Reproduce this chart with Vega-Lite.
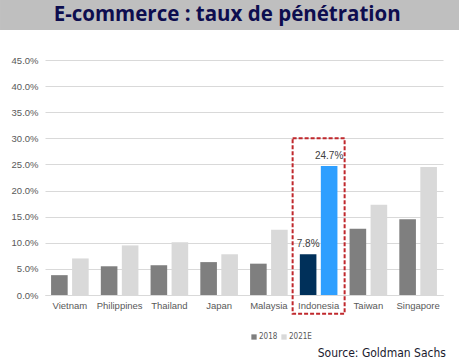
{
  "$schema": "https://vega.github.io/schema/vega-lite/v6.json",
  "padding": 0,
  "spacing": 25,
  "align": "none",
  "background": "white",
  "config": {"view": {"stroke": null}, "font": "Liberation Sans"},
  "vconcat": [
    {
      "width": 414,
      "height": 30,
      "data": {"values": [{"t": "E-commerce : taux de pénétration"}]},
      "encoding": {},
      "layer": [
        {
          "mark": {"type": "rect", "color": "#bfbfbf"},
          "encoding": {
            "x": {"datum": 0, "type": "quantitative", "scale": {"domain": [0.098, 1], "zero": false, "nice": false}, "axis": null},
            "x2": {"datum": 1}
          }
        },
        {
          "mark": {"type": "text", "font": "Open Sans", "fontWeight": "bold", "fontSize": 20.5, "color": "#0d0d4f", "baseline": "middle", "align": "center"},
          "encoding": {
            "x": {"datum": 0.495, "type": "quantitative"},
            "text": {"field": "t"}
          }
        }
      ]
    },
    {
      "width": 398,
      "height": 235,
      "data": {"values": [
        {"country": "Vietnam", "year": "2018", "value": 0.038},
        {"country": "Vietnam", "year": "2021E", "value": 0.070},
        {"country": "Philippines", "year": "2018", "value": 0.055},
        {"country": "Philippines", "year": "2021E", "value": 0.095},
        {"country": "Thailand", "year": "2018", "value": 0.057},
        {"country": "Thailand", "year": "2021E", "value": 0.101},
        {"country": "Japan", "year": "2018", "value": 0.063},
        {"country": "Japan", "year": "2021E", "value": 0.078},
        {"country": "Malaysia", "year": "2018", "value": 0.060},
        {"country": "Malaysia", "year": "2021E", "value": 0.125},
        {"country": "Indonesia", "year": "2018", "value": 0.078},
        {"country": "Indonesia", "year": "2021E", "value": 0.247},
        {"country": "Taiwan", "year": "2018", "value": 0.127},
        {"country": "Taiwan", "year": "2021E", "value": 0.173},
        {"country": "Singapore", "year": "2018", "value": 0.145},
        {"country": "Singapore", "year": "2021E", "value": 0.245}
      ]},
      "title": {"text": "Source: Goldman Sachs", "orient": "bottom", "anchor": "end", "font": "DejaVu Sans Condensed", "fontSize": 12, "fontWeight": "normal", "color": "#1a1a2e", "offset": 33, "dx": 3},
      "encoding": {
        "x": {"field": "country", "type": "nominal", "sort": null,
          "scale": {"paddingInner": 0.244, "paddingOuter": 0.122},
          "axis": {"title": null, "labelAngle": 0, "labelFontSize": 9.5, "labelColor": "#595959", "ticks": false, "domainColor": "#d9d9d9", "labelPadding": 5}},
        "y": {"field": "value", "type": "quantitative",
          "scale": {"domain": [0, 0.45]},
          "axis": {"title": null, "format": ".1%", "values": [0, 0.05, 0.1, 0.15, 0.2, 0.25, 0.3, 0.35, 0.4, 0.45], "labelFontSize": 9.5, "labelColor": "#595959", "domain": false, "ticks": false, "gridColor": "#d9d9d9", "labelPadding": 7, "minExtent": 45}}
      },
      "layer": [
        {
          "mark": {"type": "bar"},
          "encoding": {
            "xOffset": {"field": "year", "scale": {"paddingInner": 0.21}},
            "color": {
              "field": "year", "type": "nominal",
              "scale": {"domain": ["2018", "2021E"], "range": ["#7f7f7f", "#d9d9d9"]},
              "legend": {"title": null, "orient": "none", "direction": "horizontal", "legendX": 205, "legendY": 333, "symbolType": "square", "symbolSize": 28, "labelFont": "DejaVu Sans Condensed", "labelFontSize": 8, "labelColor": "#595959", "columnPadding": 2, "labelOffset": 1, "symbolStrokeWidth": 0},
              "condition": [
                {"test": "datum.country === 'Indonesia' && datum.year === '2018'", "value": "#00305a"},
                {"test": "datum.country === 'Indonesia' && datum.year === '2021E'", "value": "#2e9fff"}
              ]
            }
          }
        },
        {
          "transform": [{"filter": "datum.country === 'Indonesia'"}],
          "mark": {"type": "text", "dy": -10, "fontSize": 10, "color": "#404040"},
          "encoding": {
            "xOffset": {"field": "year"},
            "text": {"field": "value", "format": ".1%"}
          }
        },
        {
          "transform": [{"filter": "datum.country === 'Indonesia' && datum.year === '2018'"}],
          "mark": {"type": "bar", "width": 52, "fill": "transparent", "stroke": "#c0282d", "strokeWidth": 2, "strokeDash": [4, 2]},
          "encoding": {
            "y": {"datum": 0.30},
            "y2": {"datum": -0.036}
          }
        }
      ]
    }
  ]
}
